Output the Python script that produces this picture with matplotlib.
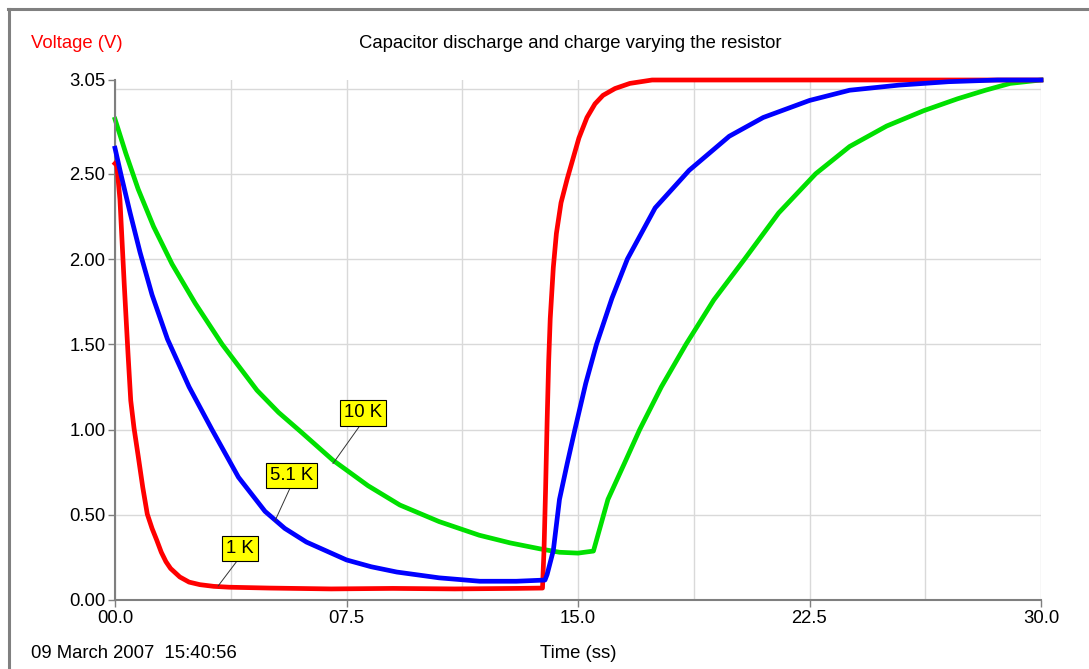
import matplotlib
matplotlib.use("Agg")
import matplotlib.pyplot as plt
from matplotlib.ticker import MultipleLocator, FixedLocator, FixedFormatter
from matplotlib.lines import Line2D

plt.rcParams['font.family'] = ['Liberation Sans', 'DejaVu Sans']

# ---- data ----
red_t = [0, 0.06, 0.16, 0.3, 0.42, 0.51, 0.615, 0.755, 0.9, 1.046, 1.2, 1.35, 1.5, 1.65, 1.8,
         2.1, 2.4, 2.75, 3.2, 3.7, 5, 7, 9, 11, 13, 13.85, 13.9, 13.95, 14.0, 14.05, 14.1, 14.2,
         14.3, 14.45, 14.65, 14.84, 15.03, 15.29, 15.55, 15.81, 16.2, 16.68, 17.4, 30]
red_v = [2.56, 2.55, 2.35, 1.85, 1.45, 1.17, 1.01, 0.84, 0.66, 0.504, 0.42, 0.352, 0.28, 0.225,
         0.185, 0.135, 0.105, 0.09, 0.08, 0.075, 0.07, 0.065, 0.068, 0.065, 0.068, 0.07, 0.3,
         0.65, 1.05, 1.4, 1.65, 1.95, 2.15, 2.33, 2.47, 2.59, 2.71, 2.83, 2.91, 2.96, 3.0, 3.03,
         3.05, 3.05]

blue_t = [0, 0.2, 0.49, 0.81, 1.2, 1.7, 2.4, 3.14, 4.0, 4.86, 5.5, 6.2, 7.5, 8.3, 9.13, 10.5,
          11.82, 13.0, 13.93, 14.0, 14.2, 14.4, 14.65, 14.9, 15.25, 15.6, 16.1, 16.6, 17.5, 18.6,
          19.9, 21.0, 22.5, 23.8, 25.4, 27.0, 28.6, 30]
blue_v = [2.65, 2.49, 2.27, 2.04, 1.79, 1.53, 1.25, 1.0, 0.72, 0.52, 0.42, 0.34, 0.235, 0.195,
          0.164, 0.13, 0.11, 0.11, 0.117, 0.15, 0.29, 0.59, 0.8, 1.0, 1.27, 1.5, 1.77, 2.0, 2.3,
          2.52, 2.72, 2.83, 2.93, 2.99, 3.02, 3.04, 3.05, 3.05]

green_t = [0, 0.35, 0.75, 1.25, 1.85, 2.6, 3.47, 4.6, 5.3, 6.0, 7.06, 8.2, 9.23, 10.5, 11.8,
           12.8, 13.77, 14.4, 15.0, 15.5, 15.97, 16.5, 17.0, 17.7, 18.5, 19.4, 20.4, 21.5, 22.7,
           23.8, 25.0, 26.2, 27.3, 28.2, 29.0, 30]
green_v = [2.82, 2.62, 2.41, 2.19, 1.97, 1.74, 1.5, 1.23, 1.1, 0.99, 0.82, 0.67, 0.557, 0.46, 0.38,
           0.335, 0.30, 0.28, 0.275, 0.287, 0.59, 0.8, 1.0, 1.25, 1.5, 1.76, 2.0, 2.27, 2.5,
           2.66, 2.78, 2.87, 2.94, 2.99, 3.03, 3.05]

x_ticks = [0, 7.5, 15, 22.5, 30]
x_labels = ["00.0", "07.5", "15.0", "22.5", "30.0"]
y_ticks = [0, 0.5, 1.0, 1.5, 2.0, 2.5, 3.05]
y_labels = ["0.00", "0.50", "1.00", "1.50", "2.00", "2.50", "3.05"]

labels = ["1 K", "5.1 K", "10 K"]
label_pos = [(4.05, 0.302), (5.73, 0.73), (8.03, 1.097)]
label_target = [(3.34, 0.082), (5.18, 0.463), (7.06, 0.80)]

# ---- figure ----
W, H = 1089, 669
FS = 13.3
fig = plt.figure(figsize=(W / 100, H / 100), dpi=100)
fig.patch.set_facecolor('white')

ax = fig.add_axes([115 / W, 1 - 600 / H, (1041 - 115) / W, (600 - 80) / H])
ax.set_xlim(0, 30)
ax.set_ylim(0, 3.05)

for s in ['top', 'right']:
    ax.spines[s].set_visible(False)
for s in ['left', 'bottom']:
    ax.spines[s].set_color('#7f7f7f')
    ax.spines[s].set_linewidth(1.5)

ax.xaxis.remove_overlapping_locs = False
ax.yaxis.remove_overlapping_locs = False
ax.xaxis.set_major_locator(FixedLocator(x_ticks))
ax.xaxis.set_major_formatter(FixedFormatter(x_labels))
ax.yaxis.set_major_locator(FixedLocator(y_ticks))
ax.yaxis.set_major_formatter(FixedFormatter(y_labels))
ax.xaxis.set_minor_locator(MultipleLocator(3.75))
ax.yaxis.set_minor_locator(MultipleLocator(0.5))
ax.tick_params(which='major', length=5, width=1, color='#7f7f7f', labelsize=FS, pad=2)
ax.tick_params(which='minor', length=0)
ax.grid(which='minor', color='#d9d9d9', linewidth=1)
ax.set_axisbelow(True)

ax.plot(red_t, red_v, color='#ff0000', lw=3.4, clip_on=False, solid_joinstyle='round', zorder=3)
ax.plot(blue_t, blue_v, color='#0000ff', lw=3.4, clip_on=False, solid_joinstyle='round', zorder=4)
ax.plot(green_t, green_v, color='#00e000', lw=3.4, clip_on=False, solid_joinstyle='round', zorder=2)

for txt, (tx, ty), (px, py) in zip(labels, label_pos, label_target):
    ax.annotate(txt, xy=(px, py), xytext=(tx, ty), ha='center', va='center', fontsize=FS,
                bbox=dict(boxstyle='square,pad=0.22', fc='#ffff00', ec='black', lw=0.8),
                arrowprops=dict(arrowstyle='-', color='#333333', lw=0.7, shrinkA=0, shrinkB=0,
                                relpos=(0.5, 0)), zorder=6)

fig.text(31 / W, 1 - 44 / H, "Voltage (V)", color='#ff0000', fontsize=FS, ha='left', va='center')
fig.text(570 / W, 1 - 44 / H, "Capacitor discharge and charge varying the resistor",
         color='black', fontsize=FS, ha='center', va='center')
fig.text(31 / W, 1 - 653 / H, "09 March 2007  15:40:56", color='black', fontsize=FS,
         ha='left', va='center')
fig.text(578 / W, 1 - 653 / H, "Time (ss)", color='black', fontsize=FS, ha='center', va='center')

# outer frame
fig.add_artist(Line2D([8.5 / W, 8.5 / W], [0, 1 - 9 / H], color='#808080', lw=2.2,
                      transform=fig.transFigure))
fig.add_artist(Line2D([7.5 / W, 1], [1 - 9 / H, 1 - 9 / H], color='#808080', lw=2.2,
                      transform=fig.transFigure))

fig.savefig("out.png", dpi=100)
